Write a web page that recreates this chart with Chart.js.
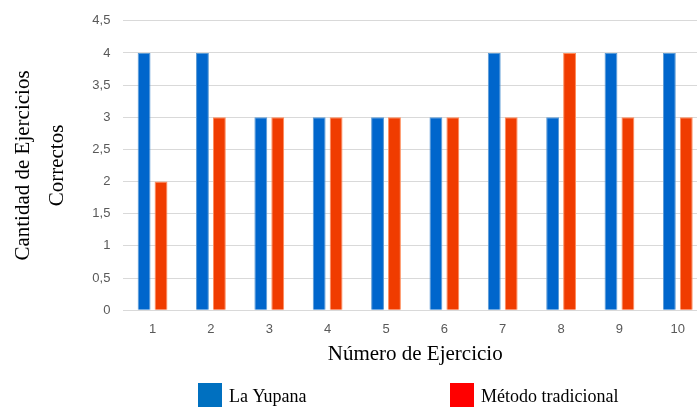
<!DOCTYPE html>
<html lang="es">
<head>
  <meta charset="UTF-8" />
  <title>Ejercicios correctos</title>
  <script src="https://cdn.jsdelivr.net/npm/chart.js"></script>
  <style>
    html, body {
      margin: 0;
      padding: 0;
      background: white;
      overflow: hidden;
    }
    .wrap {
      width: 707px;
      height: 407px;
    }
  </style>
</head>
<body>
  <div class="wrap">
    <canvas id="chart" width="707" height="407"></canvas>
  </div>

  <script>
    const ejercicios = ['1', '2', '3', '4', '5', '6', '7', '8', '9', '10'];
    const yupana = [4, 4, 3, 3, 3, 3, 4, 3, 4, 4];
    const tradicional = [2, 3, 3, 3, 3, 3, 3, 4, 3, 3];
    const seriesNames = ['La Yupana', 'Método tradicional'];
    const legendColors = ['#0070C0', '#FF0000'];

    const serif = "'Liberation Serif', 'DejaVu Serif', serif";
    const sans = "'Liberation Sans', Arial, sans-serif";

    // legend like the Word one: big squares, spread apart under the chart
    const bottomLegend = {
      id: 'bottomLegend',
      afterDraw(chart) {
        const ctx = chart.ctx;
        const xs = [198, 450];
        ctx.save();
        ctx.font = '18px ' + serif;
        ctx.textBaseline = 'middle';
        seriesNames.forEach((name, i) => {
          ctx.fillStyle = legendColors[i];
          ctx.fillRect(xs[i], 383, 24, 24);
          ctx.fillStyle = '#000';
          ctx.fillText(name, xs[i] + 31, 397);
        });
        ctx.restore();
      }
    };

    new Chart(document.getElementById('chart'), {
      type: 'bar',
      data: {
        labels: ejercicios,
        datasets: [
          {
            label: seriesNames[0],
            data: yupana,
            backgroundColor: '#0066CC',
            borderColor: '#5B9BD5',
            borderWidth: 1,
            barPercentage: 0.76,
            categoryPercentage: 0.58
          },
          {
            label: seriesNames[1],
            data: tradicional,
            backgroundColor: '#F03C00',
            borderColor: '#FF8C5A',
            borderWidth: 1,
            barPercentage: 0.76,
            categoryPercentage: 0.58
          }
        ]
      },
      options: {
        responsive: false,
        animation: false,
        layout: { padding: { top: 18, left: 6, right: 0, bottom: 36 } },
        plugins: {
          tooltip: { enabled: false },
          legend: { display: false }
        },
        scales: {
          x: {
            grid: { display: false },
            border: { display: false },
            ticks: {
              color: '#595959',
              font: { family: sans, size: 13 },
              padding: 3
            },
            title: {
              display: true,
              text: 'Número de Ejercicio',
              color: '#000',
              font: { family: serif, size: 21 },
              padding: { top: 2, bottom: 4 }
            }
          },
          y: {
            min: 0,
            max: 4.5,
            ticks: {
              stepSize: 0.5,
              autoSkip: false,
              color: '#595959',
              font: { family: sans, size: 13 },
              padding: 13,
              callback: v => String(v).replace('.', ',')
            },
            grid: { color: '#D9D9D9', lineWidth: 1, drawTicks: false },
            border: { display: false },
            title: {
              display: true,
              text: ['Cantidad de Ejercicios', 'Correctos'],
              color: '#000',
              font: { family: serif, size: 21, lineHeight: 1.65 },
              padding: { top: 0, bottom: 4 }
            }
          }
        }
      },
      plugins: [bottomLegend]
    });
  </script>
</body>
</html>
